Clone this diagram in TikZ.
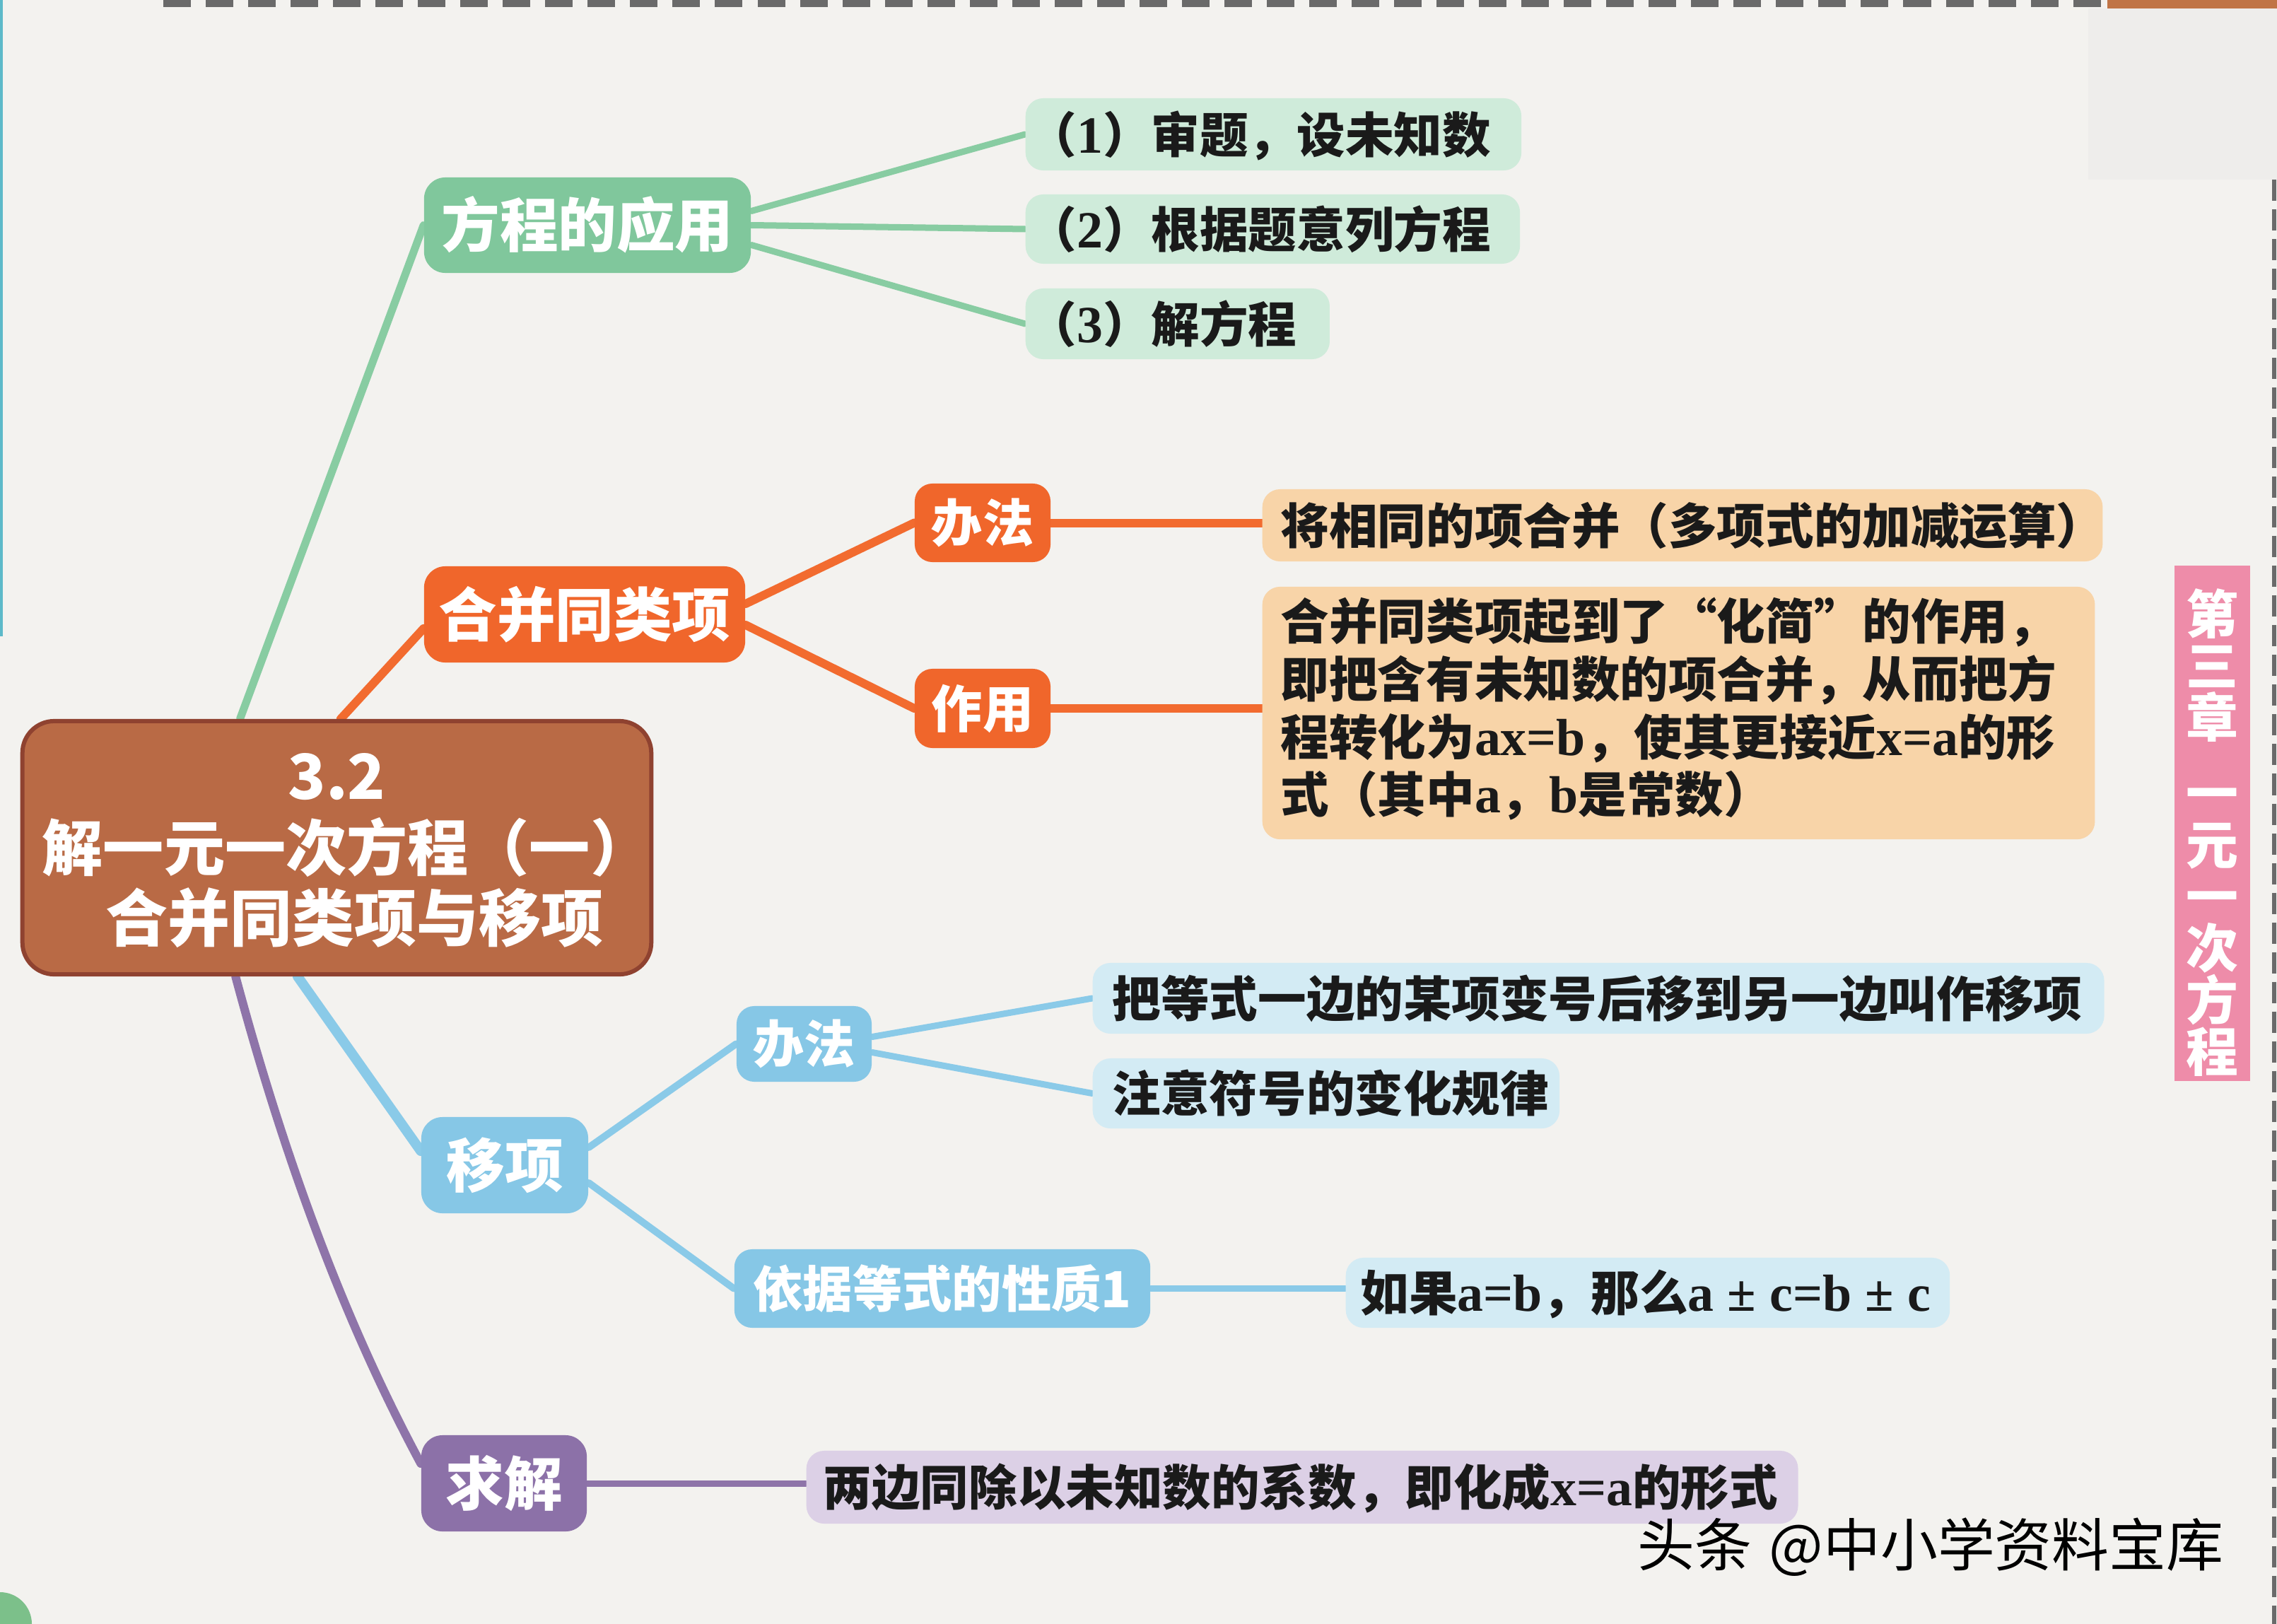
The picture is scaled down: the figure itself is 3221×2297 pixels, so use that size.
\documentclass[tikz,border=0pt]{standalone}
\usepackage{fontspec}
\setmainfont{Noto Sans CJK SC}
\newfontfamily\latf{Liberation Serif}
\usetikzlibrary{calc}
\pgfdeclarelayer{bottom}
\pgfdeclarelayer{lines}
\pgfsetlayers{bottom,lines,main}
\definecolor{cbg}{HTML}{F3F2EF}
\definecolor{cgrayrect}{HTML}{EEEDEB}
\definecolor{cdash}{HTML}{6A6A6A}
\definecolor{cbrowntop}{HTML}{C07446}
\definecolor{cteal}{HTML}{5DB9C9}
\definecolor{ccorner}{HTML}{7CC08A}
\definecolor{cbrown}{HTML}{B96A45}
\definecolor{cbrowndk}{HTML}{8F4230}
\definecolor{cgreen}{HTML}{80C79C}
\definecolor{cgreenl}{HTML}{88CCA2}
\definecolor{cgleaf}{HTML}{CFEBDA}
\definecolor{corange}{HTML}{F0662B}
\definecolor{corangel}{HTML}{F26B2F}
\definecolor{coleaf}{HTML}{F8D4A8}
\definecolor{cblue}{HTML}{86C7E6}
\definecolor{cbluel}{HTML}{8ACAE8}
\definecolor{cbleaf}{HTML}{D3EBF4}
\definecolor{cpurple}{HTML}{8C71A8}
\definecolor{cpurplel}{HTML}{8E74A9}
\definecolor{cpleaf}{HTML}{DCD0E6}
\definecolor{cpink}{HTML}{EE8CA9}
\definecolor{ctxt}{HTML}{1A1A1A}
\newcommand\latn[1]{{\latf\bfseries\fontsize{21pt}{23.2pt}\selectfont #1}}
\newcommand\pmsp{\hspace{0.26em}±\hspace{0.26em}}
\begin{document}
\begin{tikzpicture}[x=0.01cm,y=-0.01cm,
  topbox/.style={rounded corners=0.3cm, inner sep=0pt, text=white,
    font=\fontsize{23.5pt}{28pt}\selectfont\bfseries, text height=0.727cm, text depth=0.099cm},
  subbox/.style={rounded corners=0.25cm, inner sep=0pt, text=white,
    font=\fontsize{20.5pt}{24pt}\selectfont\bfseries, text height=0.634cm, text depth=0.086cm},
  leaf/.style={rounded corners=0.25cm, inner ysep=0pt, anchor=west, align=left, text=ctxt,
    font=\fontsize{19.5pt}{23.2pt}\selectfont\bfseries, text height=0.603cm, text depth=0.082cm},
  leafm/.style={rounded corners=0.25cm, inner ysep=0pt, anchor=west, align=left, text=ctxt,
    font=\fontsize{19.5pt}{23.2pt}\selectfont\bfseries},
  conn/.style={line cap=round}
]
\useasboundingbox (0,0) rectangle (3221,2297);
\begin{pgfonlayer}{bottom}
\fill[cbg] (0,0) rectangle (3221,2297);
\fill[cgrayrect] (2954,12) rectangle (3221,254);
\draw[cdash, line width=0.11cm, dash pattern=on 0.39cm off 0.21cm] (231,5) -- (2981,5);
\fill[cbrowntop] (2981,0) rectangle (3221,12);
\draw[cdash, line width=0.06cm, dash pattern=on 0.3cm off 0.12cm] (3217,254) -- (3217,2297);
\draw[cteal, line width=0.04cm] (2,0) -- (2,900);
\fill[ccorner] (0,2297) circle[radius=0.45cm];
\end{pgfonlayer}

% central node
\node[rounded corners=0.45cm, fill=cbrown, draw=cbrowndk, line width=0.06cm, inner sep=0pt,
  minimum width=8.71cm, minimum height=3.58cm, align=center, text=white,
  font=\fontsize{25pt}{28.45pt}\selectfont\bfseries, text height=2.75cm, text depth=0.11cm]
  (ctr) at (476.5,1199) {3.2\\\hspace*{0.28cm}{\fontsize{24.5pt}{28.45pt}\selectfont 解一元一次方程（一）}\\\hspace*{0.5cm}合并同类项与移项};

% first level
\node[topbox, fill=cgreen, minimum width=4.62cm, minimum height=1.35cm] (fc) at (831,318.5) {方程的应用};
\node[topbox, fill=corange, minimum width=4.54cm, minimum height=1.36cm] (hb) at (827,869) {合并同类项};
\node[topbox, fill=cblue, minimum width=2.36cm, minimum height=1.36cm] (yx) at (714,1648) {移项};
\node[topbox, fill=cpurple, minimum width=2.34cm, minimum height=1.36cm] (qj) at (713,2098) {求解};

% second level
\node[subbox, fill=corange, minimum width=1.92cm, minimum height=1.11cm] (bf1) at (1390,739.5) {办法};
\node[subbox, fill=corange, minimum width=1.92cm, minimum height=1.12cm] (zy) at (1390,1002) {作用};
\node[subbox, fill=cblue, minimum width=1.91cm, minimum height=1.07cm] (bf2) at (1137.5,1476.5) {办法};
\node[subbox, fill=cblue, minimum width=5.88cm, minimum height=1.11cm,
  font=\fontsize{20pt}{24pt}\selectfont\bfseries, text height=0.619cm, text depth=0.084cm] (yj) at (1333,1822.5) {依据等式的性质1};

% leaves
\node[leaf, fill=cgleaf, minimum height=1.02cm, text width=6.93cm, inner xsep=0.04cm] (g1) at (1450,190) {（\latn{1}）审题，设未知数};
\node[leaf, fill=cgleaf, minimum height=0.98cm, text width=6.91cm, inner xsep=0.04cm] (g2) at (1450,324) {（\latn{2}）根据题意列方程};
\node[leaf, fill=cgleaf, minimum height=1.00cm, text width=4.22cm, inner xsep=0.04cm] (g3) at (1450,458) {（\latn{3}）解方程};
\node[leaf, fill=coleaf, minimum height=1.02cm, text width=11.36cm, inner xsep=0.26cm] (o1) at (1785,743) {将相同的项合并（多项式的加减运算）};
\node[leafm, fill=coleaf, minimum height=3.57cm, text width=11.25cm, inner xsep=0.26cm, text height=0.60cm, text depth=2.67cm] (o2) at (1785,1008.5)
  {合并同类项起到了“化简”的作用，\\即把含有未知数的项合并，从而把方\\程转化为\latn{ax=b}，使其更接近\latn{x=a}的形\\式（其中\latn{a}，\latn{b}是常数）};
\node[leaf, fill=cbleaf, minimum height=1.00cm, text width=13.74cm, inner xsep=0.28cm] (bl1) at (1545,1412) {把等式一边的某项变号后移到另一边叫作移项};
\node[leaf, fill=cbleaf, minimum height=0.99cm, text width=6.04cm, inner xsep=0.28cm] (bl2) at (1545,1546.5) {注意符号的变化规律};
\node[leaf, fill=cbleaf, minimum height=0.99cm, text width=8.12cm, inner xsep=0.21cm] (rg) at (1903,1828.5) {如果\latn{a=b}，那么\latn{a\pmsp c=b\pmsp c}};
\node[leaf, fill=cpleaf, minimum height=1.03cm, text width=13.54cm, inner xsep=0.24cm] (pl) at (1140,2103.5) {两边同除以未知数的系数，即化成\latn{x=a}的形式};

% side tab
\node[fill=cpink, minimum width=1.07cm, minimum height=7.29cm, inner sep=0pt, text=white, align=center,
  font=\fontsize{21pt}{20.8pt}\selectfont\bfseries, text height=7.10cm, text depth=0.09cm]
  (tab) at (3129.5,1164.5) {第\\三\\章\\[0.34cm]一\\元\\一\\次\\方\\程};

% watermark
\node[anchor=west, inner sep=0pt, font=\fontsize{23pt}{27pt}\selectfont, text=black] (wm) at (2316,2188) {头条\hspace{0.3em}@中小学资料宝库};

% connectors
\begin{pgfonlayer}{lines}
\draw[conn, cgreenl, line width=0.11cm] ($(ctr.north west)!0.347!(ctr.north east)$) -- (fc.west);
\draw[conn, corangel, line width=0.12cm] ($(ctr.north west)!0.506!(ctr.north east)$) -- ($(hb.west)+(0,20)$);
\draw[conn, cbluel, line width=0.14cm] ($(ctr.south west)!0.438!(ctr.south east)$) -- ($(yx.west)+(0,-20)$);
\draw[conn, cpurplel, line width=0.12cm] ($(ctr.south west)!0.34!(ctr.south east)$) .. controls (402,1637) and (486,1867) .. ($(qj.west)+(0,-28)$);

\draw[conn, cgreenl, line width=0.09cm] ($(fc.east)+(0,-20)$) -- (g1.west);
\draw[conn, cgreenl, line width=0.09cm] (fc.east) -- (g2.west);
\draw[conn, cgreenl, line width=0.09cm] ($(fc.east)+(0,28)$) -- (g3.west);

\draw[conn, corangel, line width=0.12cm] ($(hb.east)+(0,-15)$) -- (bf1.west);
\draw[conn, corangel, line width=0.12cm] ($(hb.east)+(0,15)$) -- (zy.west);
\draw[conn, corangel, line width=0.12cm] (bf1.east) -- (bf1.east -| o1.west);
\draw[conn, corangel, line width=0.12cm] (zy.east) -- (zy.east -| o2.west);

\draw[conn, cbluel, line width=0.10cm] ($(yx.east)+(0,-25)$) -- (bf2.west);
\draw[conn, cbluel, line width=0.10cm] ($(yx.east)+(0,25)$) -- (yj.west);
\draw[conn, cbluel, line width=0.09cm] ($(bf2.east)+(0,-10)$) -- (bl1.west);
\draw[conn, cbluel, line width=0.09cm] ($(bf2.east)+(0,12)$) -- (bl2.west);
\draw[conn, cbluel, line width=0.09cm] (yj.east) -- (yj.east -| rg.west);

\draw[conn, cpurplel, line width=0.09cm] (qj.east) -- (qj.east -| pl.west);
\end{pgfonlayer}
\end{tikzpicture}
\end{document}
